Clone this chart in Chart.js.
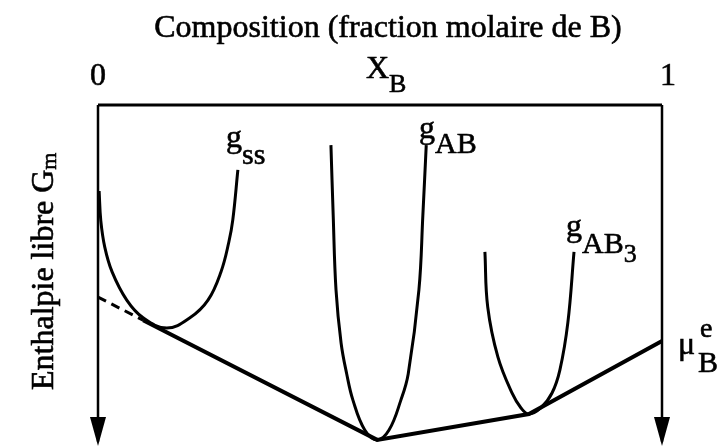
<!DOCTYPE html>
<html>
<head>
<meta charset="utf-8">
<script src="https://cdn.jsdelivr.net/npm/chart.js@4/dist/chart.umd.min.js"></script>
<style>
  html, body { margin: 0; padding: 0; background: #fff; }
  #wrap { width: 724px; height: 447px; }
</style>
</head>
<body>
<div id="wrap"><canvas id="gibbs"></canvas></div>
<script>
// Composition X_B (0..1) against free enthalpy G_m (arbitrary units, growing downwards)

// solid solution curve g_ss
const ssX = [0.002, 0.005, 0.012, 0.025, 0.051, 0.080, 0.122, 0.163, 0.195, 0.218, 0.232, 0.239, 0.248];
const ssG = [2.53, 3.41, 4.18, 4.91, 5.74, 6.26, 6.56, 6.26, 5.74, 4.91, 4.03, 3.38, 1.91];

// compound AB
const abX = [0.413, 0.417, 0.422, 0.431, 0.441, 0.452, 0.473, 0.495, 0.516, 0.537, 0.550, 0.569, 0.576, 0.582];
const abG = [1.18, 3.24, 5.44, 7.00, 7.91, 8.68, 9.56, 9.85, 9.56, 8.68, 7.91, 5.44, 3.24, 1.18];

// compound AB3
const ab3X = [0.686, 0.691, 0.709, 0.734, 0.750, 0.764, 0.785, 0.805, 0.819, 0.833, 0.844];
const ab3G = [4.32, 5.94, 7.41, 8.47, 8.91, 9.09, 8.91, 8.47, 7.79, 6.41, 4.32];

// common tangent construction (dashed part extrapolated back to X_B = 0)
const tangentDashX = [0, 0.08];
const tangentDashG = [5.65, 6.33];
const hullX = [0.08, 0.495, 0.764, 1];
const hullG = [6.33, 9.85, 9.09, 6.94];

// frame: top border and the two G axes
const axisTop = 0;
const axisBottom = 9.9;
const xTicks = ['0', '1'];

const FONT = '"Liberation Serif", "Times New Roman", serif';

function toPoints(xs, gs) {
    return xs.map((x, i) => ({ x: x, y: gs[i] }));
}

function curve(xs, gs, width) {
    return {
        data: toPoints(xs, gs),
        borderColor: '#000',
        borderWidth: width,
        pointRadius: 0,
        tension: 0.4,
        fill: false,
        clip: false
    };
}

function straight(points, width, dash) {
    return {
        data: points,
        borderColor: '#000',
        borderWidth: width,
        borderDash: dash || [],
        pointRadius: 0,
        tension: 0,
        fill: false,
        clip: false,
        borderCapStyle: 'butt'
    };
}

// draws a run of text pieces, each with its own size and baseline shift
function drawParts(ctx, x, y, parts) {
    let cx = x;
    parts.forEach(([text, size, dy]) => {
        ctx.font = size + 'px ' + FONT;
        ctx.fillText(text, cx, y + dy);
        ctx.strokeText(text, cx, y + dy);
        cx += ctx.measureText(text).width;
    });
}

const arrowHeads = {
    id: 'arrowHeads',
    afterDatasetsDraw(chart) {
        const ctx = chart.ctx;
        const xs = chart.scales.x;
        const ys = chart.scales.y;
        const tip = ys.getPixelForValue(10) + 1;
        [0, 1].forEach(v => {
            const px = xs.getPixelForValue(v);
            ctx.save();
            ctx.fillStyle = '#000';
            ctx.beginPath();
            ctx.moveTo(px - 8, tip - 29);
            ctx.lineTo(px + 8, tip - 29);
            ctx.lineTo(px, tip);
            ctx.closePath();
            ctx.fill();
            ctx.restore();
        });
    }
};

const labels = {
    id: 'labels',
    afterDraw(chart) {
        const ctx = chart.ctx;
        const xs = chart.scales.x;
        ctx.save();
        ctx.fillStyle = '#000';
        ctx.strokeStyle = '#000';
        ctx.lineWidth = 0.6;
        ctx.textBaseline = 'alphabetic';

        ctx.textAlign = 'center';
        drawParts(ctx, 388, 37, [['Composition (fraction molaire de B)', 32, 0]]);
        drawParts(ctx, xs.getPixelForValue(0), 85, [[xTicks[0], 32, 0]]);
        drawParts(ctx, xs.getPixelForValue(1) + 6, 85, [[xTicks[1], 32, 0]]);

        ctx.textAlign = 'left';
        drawParts(ctx, 366, 78, [['X', 32, 0], ['B', 26, 14]]);
        drawParts(ctx, 226, 147, [['g', 32, 0], ['ss', 30, 17]]);
        drawParts(ctx, 419, 138, [['g', 32, 0], ['AB', 30, 15]]);
        drawParts(ctx, 566, 236, [['g', 32, 0], ['AB', 30, 17], ['3', 26, 26]]);
        drawParts(ctx, 678, 354, [['\u03bc', 32, 0]]);
        drawParts(ctx, 700, 337, [['e', 28, 0]]);
        drawParts(ctx, 698, 372, [['B', 30, 0]]);

        // vertical axis title
        ctx.translate(53, 390);
        ctx.rotate(-Math.PI / 2);
        drawParts(ctx, 0, 0, [['Enthalpie libre G', 32, 0], ['m', 22, 3]]);
        ctx.restore();
    }
};

new Chart(document.getElementById('gibbs'), {
    type: 'line',
    data: {
        datasets: [
            straight([{ x: 0, y: axisTop }, { x: 1, y: axisTop }], 3),
            straight([{ x: 0, y: axisTop }, { x: 0, y: axisBottom }], 2.5),
            straight([{ x: 1, y: axisTop }, { x: 1, y: axisBottom }], 2.5),
            curve(ssX, ssG, 3),
            curve(abX, abG, 3),
            curve(ab3X, ab3G, 3),
            straight(toPoints(tangentDashX, tangentDashG), 3, [9, 6]),
            straight(toPoints(hullX, hullG), 4)
        ]
    },
    options: {
        responsive: true,
        maintainAspectRatio: false,
        animation: false,
        layout: { padding: { left: 98, right: 62, top: 105, bottom: 2 } },
        plugins: {
            legend: { display: false },
            tooltip: { enabled: false }
        },
        scales: {
            x: { type: 'linear', min: 0, max: 1, display: false },
            y: { type: 'linear', min: 0, max: 10, reverse: true, display: false }
        }
    },
    plugins: [arrowHeads, labels]
});
</script>
</body>
</html>
